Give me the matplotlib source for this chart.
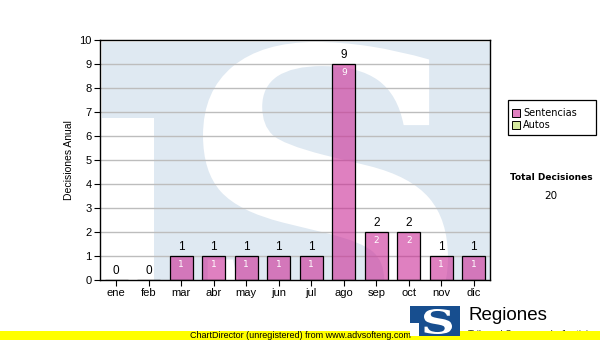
import matplotlib
matplotlib.use("Agg")
import matplotlib.pyplot as plt
from matplotlib.patches import Rectangle, PathPatch
from matplotlib.textpath import TextPath
from matplotlib.font_manager import FontProperties
from matplotlib.transforms import Affine2D

months = ["ene", "feb", "mar", "abr", "may", "jun", "jul", "ago", "sep", "oct", "nov", "dic"]
sentencias = [0, 0, 1, 1, 1, 1, 1, 9, 2, 2, 1, 1]
autos = [0] * 12
total = sum(sentencias) + sum(autos)
yticks = list(range(0, 11))

W, H = 600, 340
fig = plt.figure(figsize=(W / 100, H / 100), dpi=100)
fig.patch.set_facecolor("white")

def fx(x):
    return x / W

def fy(y):
    return 1 - y / H

# plot area in pixels
L, R, T, B = 100, 490, 40, 280
ax = fig.add_axes([fx(L), fy(B), (R - L) / W, (B - T) / H])
ax.set_facecolor("#dfe9f2")
ax.set_xlim(-0.5, 11.5)
ax.set_ylim(0, 10)

figtr = fig.transFigure

def pxrect(x0, y0, x1, y1, color, z=0.1):
    r = Rectangle((fx(x0), fy(y1)), fx(x1) - fx(x0), fy(y0) - fy(y1),
                  facecolor=color, edgecolor="none", zorder=z)
    ax.add_artist(r)
    r.set_transform(figtr)
    r.set_clip_path(ax.patch)
    return r

# watermark background ("TS" logo)
pxrect(100, 118, 154, 281, "white")
pxrect(100, 40, 102, 281, "white")
pxrect(100, 40, 491, 42, "white")

def draw_S(x0, y0, x1, y1, color, family, z=0.2, in_axes=True):
    tp = TextPath((0, 0), "S", size=1, prop=FontProperties(family=family, weight="bold"))
    ext = tp.get_extents()
    sx = (fx(x1) - fx(x0)) / ext.width
    sy = (fy(y0) - fy(y1)) / ext.height
    tr = Affine2D().translate(-ext.x0, -ext.y0).scale(sx, sy).translate(fx(x0), fy(y1)) + figtr
    p = PathPatch(tp, facecolor=color, edgecolor="none", zorder=z)
    if in_axes:
        ax.add_artist(p)
        p.set_transform(tr)
        p.set_clip_path(ax.patch)
    else:
        p.set_transform(tr)
        fig.add_artist(p)
    return p

draw_S(203, 42, 448, 350, "white", "DejaVu Serif")

# grid
for v in yticks[1:-1]:
    ax.axhline(v, color="#bdbdbd", lw=1.0, zorder=0.5)

x = list(range(len(months)))
bars = ax.bar(x, sentencias, width=0.71, color=(203 / 255, 43 / 255, 150 / 255, 0.6),
              edgecolor="black", linewidth=0.9, zorder=2)

for xi, v in zip(x, sentencias):
    ax.text(xi, v + 0.12, str(v), ha="center", va="bottom", fontsize=8.5,
            family="Liberation Sans", color="black", zorder=3)
    if v > 0:
        ax.text(xi, v - 0.15, str(v), ha="center", va="top", fontsize=6.5,
                family="DejaVu Sans", color="white", zorder=3)

for s in ax.spines.values():
    s.set_color("black")
    s.set_linewidth(1.0)
    s.set_zorder(4)

ax.set_yticks(yticks)
ax.set_xticks(x)
ax.set_xticklabels(months)
ax.tick_params(axis="both", length=4, width=0.8, color="black", labelsize=8, pad=2)
for lab in ax.get_xticklabels() + ax.get_yticklabels():
    lab.set_family("Liberation Sans")
ax.set_ylabel("Decisiones Anual", fontsize=7.5, family="Liberation Sans", labelpad=4)

# legend
leg_box = Rectangle((fx(508), fy(135)), fx(596) - fx(508), fy(100) - fy(135), transform=figtr,
                    facecolor="white", edgecolor="black", linewidth=0.9)
fig.add_artist(leg_box)
for yy, lab, col in [(113, "Sentencias", "#e07fc0"), (125, "Autos", "#d6eaa0")]:
    fig.add_artist(Rectangle((fx(512), fy(yy + 4)), fx(8), fy(0) - fy(8), transform=figtr,
                             facecolor=col, edgecolor="black", linewidth=0.7))
    fig.text(fx(523), fy(yy), lab, fontsize=7, family="DejaVu Sans", va="center", ha="left")

fig.text(fx(551), fy(178), "Total Decisiones", fontsize=6.5, family="DejaVu Sans",
         weight="bold", ha="center", va="center")
fig.text(fx(551), fy(196), str(total), fontsize=7.5, family="DejaVu Sans", ha="center", va="center")

# footer
fig.text(fx(468), fy(335), "Tribunal Supremo de Justicia", fontsize=7, family="Liberation Sans",
         ha="left", va="center", color="#333333")
fig.add_artist(Rectangle((0, 0), 1, fy(331), transform=figtr, facecolor="#ffff00",
                         edgecolor="none", zorder=5))
fig.text(fx(300), fy(335.5), "ChartDirector (unregistered) from www.advsofteng.com", fontsize=6.5,
         family="Liberation Sans", ha="center", va="center", zorder=6)
fig.add_artist(Rectangle((fx(410), fy(336)), fx(50), fy(0) - fy(30), transform=figtr,
                         facecolor="#174e8f", edgecolor="none", zorder=7))
fig.add_artist(Rectangle((fx(410), fy(336)), fx(9), fy(0) - fy(13), transform=figtr,
                         facecolor="white", edgecolor="none", zorder=7.5))
sp = draw_S(424, 309, 452, 334, "white", "DejaVu Serif", z=8, in_axes=False)
fig.text(fx(468), fy(316), "Regiones", fontsize=13.5, family="Liberation Sans",
         ha="left", va="center", zorder=8)

fig.savefig("out.png", dpi=100)
